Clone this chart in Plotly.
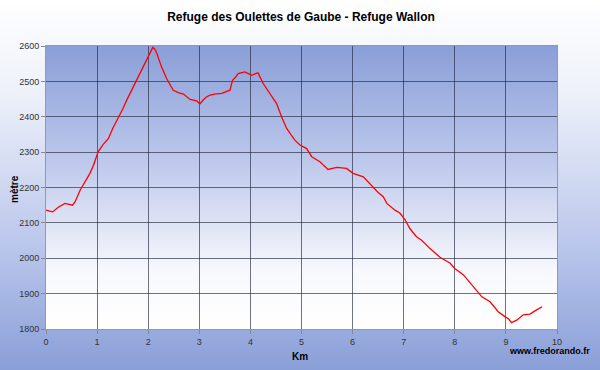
import plotly.graph_objects as go

# Profile data (km, elevation m)
km = [0.00, 0.13, 0.24, 0.37, 0.52, 0.57, 0.67, 0.76, 0.86, 0.93, 1.02, 1.12, 1.22, 1.31,
      1.41, 1.50, 1.58, 1.68, 1.77, 1.87, 1.97, 2.04, 2.09, 2.13, 2.17, 2.26, 2.36, 2.49,
      2.59, 2.69, 2.82, 2.95, 3.01, 3.08, 3.14, 3.21, 3.30, 3.44, 3.52, 3.60, 3.65, 3.70,
      3.76, 3.89, 3.96, 4.03, 4.10, 4.15, 4.25, 4.38, 4.51, 4.61, 4.71, 4.80, 4.87, 4.97,
      5.10, 5.20, 5.36, 5.52, 5.60, 5.69, 5.88, 6.01, 6.21, 6.31, 6.41, 6.50, 6.60, 6.67,
      6.83, 6.93, 7.03, 7.12, 7.25, 7.35, 7.51, 7.71, 7.91, 8.00, 8.17, 8.36, 8.53, 8.69,
      8.85, 8.98, 9.05, 9.11, 9.21, 9.34, 9.47, 9.60, 9.71]
elev = [2136, 2131, 2144, 2155, 2150, 2160, 2193, 2216, 2240, 2263, 2301, 2322, 2338, 2368,
        2395, 2421, 2447, 2476, 2503, 2532, 2560, 2583, 2596, 2591, 2579, 2541, 2508, 2475,
        2468, 2464, 2449, 2445, 2436, 2448, 2456, 2461, 2464, 2466, 2470, 2475, 2503, 2510,
        2522, 2527, 2522, 2517, 2522, 2524, 2494, 2466, 2438, 2400, 2367, 2348, 2334, 2320,
        2310, 2287, 2273, 2251, 2254, 2257, 2254, 2240, 2230, 2215, 2197, 2186, 2174, 2155,
        2136, 2127, 2108, 2084, 2061, 2051, 2028, 2003, 1986, 1971, 1953, 1919, 1891, 1877,
        1849, 1835, 1829, 1818, 1825, 1840, 1842, 1854, 1863]

title = "Refuge des Oulettes de Gaube - Refuge Wallon"
x_title = "Km"
y_title = "mètre"
credit = "www.fredorando.fr"

W, H = 600, 370
pl, pr, pt, pb = 46, 557, 46, 329
xd = [pl / W, pr / W]
yd = [1 - pb / H, 1 - pt / H]

FONT = "Arial, Liberation Sans, sans-serif"
BLUE = "#8a9fd8"

fig = go.Figure()

# outer background gradient (paper coordinates on xy)
fig.add_trace(go.Scatter(
    x=[0, 1, 1, 0, 0], y=[0, 0, 1, 1, 0], mode="none", fill="toself",
    fillgradient=dict(type="vertical",
                      colorscale=[[0, BLUE], [0.35, "#bcc8ec"], [0.75, "#eef1fa"], [1, "#ffffff"]]),
    hoverinfo="skip", showlegend=False, xaxis="x", yaxis="y"))

# plot-area background gradient
fig.add_trace(go.Scatter(
    x=[xd[0], xd[1], xd[1], xd[0], xd[0]], y=[yd[0], yd[0], yd[1], yd[1], yd[0]],
    mode="none", fill="toself",
    fillgradient=dict(type="vertical",
                      colorscale=[[0, "#ffffff"], [0.2, "#f8f9fd"], [0.6, "#bcc7eb"], [1, BLUE]]),
    hoverinfo="skip", showlegend=False, xaxis="x", yaxis="y"))

# profile line
fig.add_trace(go.Scatter(
    x=km, y=elev, mode="lines", line=dict(color="#ff0000", width=1.3),
    showlegend=False, xaxis="x2", yaxis="y2"))

GRID = "rgba(35,40,65,0.65)"
fig.update_layout(
    width=W, height=H,
    margin=dict(l=0, r=0, t=0, b=0, autoexpand=False),
    paper_bgcolor="white", plot_bgcolor="rgba(0,0,0,0)",
    font=dict(family=FONT, size=9, color="#333"),
    title=dict(text="<b>" + title + "</b>", x=301 / W, xanchor="center", y=1 - 17 / H,
               yanchor="middle", font=dict(size=12, color="#000", family=FONT)),
    xaxis=dict(domain=[0, 1], range=[0, 1], visible=False, fixedrange=True),
    yaxis=dict(domain=[0, 1], range=[0, 1], visible=False, fixedrange=True),
    xaxis2=dict(domain=xd, anchor="y2", range=[0, 10], dtick=1, tick0=0, automargin=False,
                showgrid=True, gridcolor=GRID, gridwidth=1, zeroline=False,
                showline=True, linecolor="#999", linewidth=1, mirror=True,
                ticks="outside", ticklen=4, tickcolor="#888",
                tickfont=dict(size=9, color="#333")),
    yaxis2=dict(domain=yd, anchor="x2", range=[1800, 2600], dtick=100, tick0=1800, automargin=False,
                showgrid=True, gridcolor=GRID, gridwidth=1, zeroline=False,
                showline=True, linecolor="#999", linewidth=1, mirror=True,
                ticks="outside", ticklen=4, tickcolor="#888",
                tickfont=dict(size=9, color="#333")),
    annotations=[
        dict(text="<b>" + credit + "</b>", xref="paper", yref="paper",
             x=592 / W, y=1 - 351 / H, xanchor="right", yanchor="middle",
             showarrow=False, font=dict(size=9, color="#000", family=FONT)),
        dict(text="<b>" + x_title + "</b>", xref="paper", yref="paper",
             x=300 / W, y=1 - 356 / H, xanchor="center", yanchor="middle",
             showarrow=False, font=dict(size=10, color="#000", family=FONT)),
        dict(text="<b>" + y_title + "</b>", xref="paper", yref="paper",
             x=14 / W, y=1 - 189 / H, xanchor="center", yanchor="middle", textangle=-90,
             showarrow=False, font=dict(size=10, color="#000", family=FONT)),
    ],
)

fig.write_html("out.html", config={"displayModeBar": False},
               post_script="document.body.style.margin='0';document.body.style.overflow='hidden';")
